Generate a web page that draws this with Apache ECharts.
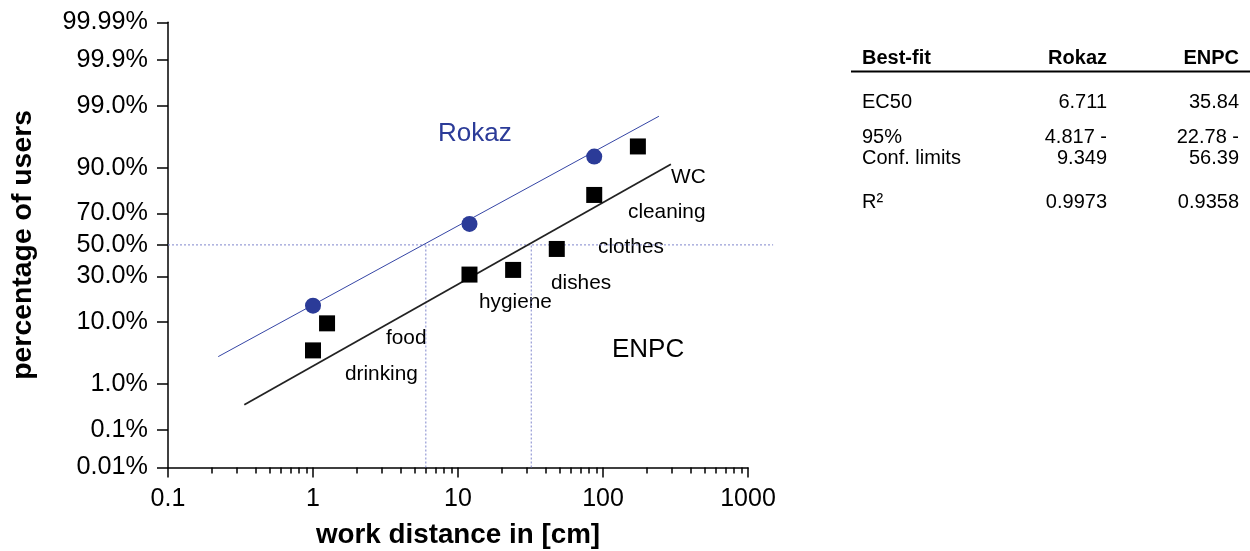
<!DOCTYPE html>
<html><head><meta charset="utf-8">
<script src="https://cdn.jsdelivr.net/npm/echarts@6/dist/echarts.min.js"></script>
<style>html,body{margin:0;padding:0;background:#fff}#c{width:1250px;height:551px}</style>
</head><body><div id="c"></div>
<script>
// ---- data ----
const rokazX = [1, 12, 87];
const rokazPct = [15.5, 63.7, 93.0];
const enpcX = [1, 1.25, 12, 24, 48, 87, 174];
const enpcPct = [3.9, 9.5, 31.0, 33.8, 47.3, 79.8, 95.0];
const rokazFitX = [0.222, 243];
const rokazFitPct = [3.1, 98.42];
const enpcFitX = [0.336, 294];
const enpcFitPct = [0.38, 91.1];
const crossX = [6.0, 32.0];          // where fit lines cross 50 %
const guideEndX = 1490;
const yTickPct = [0.01, 0.1, 1, 10, 30, 50, 70, 90, 99, 99.9, 99.99];
const yTickLabels = ['0.01%', '0.1%', '1.0%', '10.0%', '30.0%', '50.0%', '70.0%', '90.0%', '99.0%', '99.9%', '99.99%'];
const xTickVals = [0.1, 1, 10, 100, 1000];
const xTickLabels = ['0.1', '1', '10', '100', '1000'];
const tableHeader = ['Best-fit', 'Rokaz', 'ENPC'];
const tableRows = [
  ['EC50', '6.711', '35.84'],
  ['95%\nConf. limits', '4.817 -\n9.349', '22.78 -\n56.39'],
  ['R²', '0.9973', '0.9358']
];
const pointLabels = ['WC', 'cleaning', 'clothes', 'dishes', 'hygiene', 'food', 'drinking'];

// ---- scales ----
function probit(p) {
  const a = [-3.969683028665376e+01, 2.209460984245205e+02, -2.759285104469687e+02, 1.383577518672690e+02, -3.066479806614716e+01, 2.506628277459239e+00];
  const b = [-5.447609879822406e+01, 1.615858368580409e+02, -1.556989798598866e+02, 6.680131188771972e+01, -1.328068155288572e+01];
  const c = [-7.784894002430293e-03, -3.223964580411365e-01, -2.400758277161838e+00, -2.549671664982052e+00, 4.374664141464968e+00, 2.938163982698783e+00];
  const d = [7.784695709041462e-03, 3.224671290700398e-01, 2.445134137142996e+00, 3.754408661907416e+00];
  const pl = 0.02425, ph = 1 - pl; let q, r;
  if (p < pl) { q = Math.sqrt(-2 * Math.log(p)); return (((((c[0]*q+c[1])*q+c[2])*q+c[3])*q+c[4])*q+c[5]) / ((((d[0]*q+d[1])*q+d[2])*q+d[3])*q+1); }
  if (p <= ph) { q = p - 0.5; r = q*q; return (((((a[0]*r+a[1])*r+a[2])*r+a[3])*r+a[4])*r+a[5])*q / (((((b[0]*r+b[1])*r+b[2])*r+b[3])*r+b[4])*r+1); }
  q = Math.sqrt(-2 * Math.log(1 - p)); return -(((((c[0]*q+c[1])*q+c[2])*q+c[3])*q+c[4])*q+c[5]) / ((((d[0]*q+d[1])*q+d[2])*q+d[3])*q+1);
}
const Y = pct => probit(pct / 100);
const X = v => Math.log10(v);
const pts = (xs, ps) => xs.map((x, i) => [X(x), Y(ps[i])]);

const yTickPos = yTickPct.map(Y);
const xTickPos = xTickVals.map(X);
const minorPos = [];
for (let e = -1; e < 3; e++) for (let k = 2; k <= 9; k++) minorPos.push(e + Math.log10(k));

const FONT = "'Liberation Sans', Arial, Helvetica, sans-serif";
const BLUE = '#2b3b98';
const GUIDE = { color: '#7f86cc', width: 1, type: [2, 2] };

const chart = echarts.init(document.getElementById('c'));

// ---- graphics (labels + table) ----
const g = [];
const txt = (x, y, s, opt) => g.push({ type: 'text', x: x, y: y, silent: true,
  style: Object.assign({ text: s, fontFamily: FONT, fontSize: 20.5, fill: '#000', textAlign: 'left', textVerticalAlign: 'middle' }, opt || {}) });
txt(438, 134, 'Rokaz', { fontSize: 26, fill: BLUE });
txt(612, 350, 'ENPC', { fontSize: 26 });
const labelPos = [[671, 177], [628, 212], [598, 247], [551, 283], [479, 302], [386, 338.5], [345, 374]];
pointLabels.forEach((s, i) => txt(labelPos[i][0], labelPos[i][1], s, { fontSize: 20.8 }));
// table
const colX = [862, 1107, 1239];
const colAlign = ['left', 'right', 'right'];
tableHeader.forEach((s, i) => txt(colX[i], 58.5, s, { fontSize: 20, fontWeight: 'bold', textAlign: colAlign[i] }));
g.push({ type: 'line', silent: true, shape: { x1: 851, y1: 71.5, x2: 1250, y2: 71.5 }, style: { stroke: '#000', lineWidth: 2 } });
const rowY = [102, 137, 202];
tableRows.forEach((row, r) => row.forEach((cell, ci) => cell.split('\n').forEach((ln, li) =>
  txt(colX[ci], rowY[r] + li * 21.6, ln, { fontSize: 20, textAlign: colAlign[ci] }))));

const option = {
  animation: false,
  backgroundColor: '#fff',
  grid: { left: 168, right: 502, top: 22.3, bottom: 83.5, containLabel: false, outerBoundsMode: 'none' },
  xAxis: [{
    type: 'value', min: -1, max: 3, position: 'bottom',
    name: 'work distance in [cm]', nameLocation: 'middle', nameGap: 54,
    nameTextStyle: { fontFamily: FONT, fontSize: 27.8, fontWeight: 'bold', color: '#000' },
    axisLine: { show: true, onZero: false, lineStyle: { color: '#000', width: 1.5 } },
    axisTick: { show: true, length: 10, customValues: xTickPos, lineStyle: { color: '#000', width: 1.5 } },
    axisLabel: { customValues: xTickPos, margin: 19, fontFamily: FONT, fontSize: 25, color: '#000',
      formatter: v => { const i = xTickPos.findIndex(t => Math.abs(t - v) < 1e-6); return i >= 0 ? xTickLabels[i] : ''; } },
    splitLine: { show: false }
  }, {
    type: 'value', min: -1, max: 3, position: 'bottom',
    axisLine: { show: false, onZero: false },
    axisTick: { show: true, length: 6, customValues: minorPos, lineStyle: { color: '#000', width: 1.5 } },
    axisLabel: { show: false },
    splitLine: { show: false }
  }],
  yAxis: {
    type: 'value', min: Y(0.01), max: Y(99.99),
    name: 'percentage of users', nameLocation: 'middle', nameGap: 131,
    nameTextStyle: { fontFamily: FONT, fontSize: 28.4, fontWeight: 'bold', color: '#000' },
    axisLine: { show: true, onZero: false, lineStyle: { color: '#000', width: 1.5 } },
    axisTick: { show: true, length: 11, customValues: yTickPos, lineStyle: { color: '#000', width: 1.5 } },
    axisLabel: { customValues: yTickPos, margin: 20, fontFamily: FONT, fontSize: 25.2, color: '#000',
      formatter: v => { const i = yTickPos.findIndex(t => Math.abs(t - v) < 1e-6); return i >= 0 ? yTickLabels[i] : ''; } },
    splitLine: { show: false }
  },
  series: [
    { type: 'line', symbol: 'none', silent: true, lineStyle: GUIDE,
      data: [[X(crossX[0]), Y(0.01)], [X(crossX[0]), Y(50)]] },
    { type: 'line', symbol: 'none', silent: true, lineStyle: GUIDE,
      data: [[X(crossX[1]), Y(0.01)], [X(crossX[1]), Y(50)]] },
    { name: 'Rokaz fit', type: 'line', symbol: 'none', silent: true, lineStyle: { color: '#3545a5', width: 1 },
      data: pts(rokazFitX, rokazFitPct) },
    { name: 'ENPC fit', type: 'line', symbol: 'none', silent: true, lineStyle: { color: '#222', width: 1.8 },
      data: pts(enpcFitX, enpcFitPct) },
    { name: 'Rokaz', type: 'scatter', symbol: 'circle', symbolSize: 16, itemStyle: { color: BLUE, opacity: 1 },
      data: pts(rokazX, rokazPct), z: 5 },
    { name: 'ENPC', type: 'scatter', symbol: 'rect', symbolSize: 16, itemStyle: { color: '#000', opacity: 1 },
      data: pts(enpcX, enpcPct), z: 5 }
  ],
  graphic: g
};
chart.setOption(option);

// 50 % guide line, which runs past the end of the x axis: place it through the chart's own scales
const p0 = chart.convertToPixel({ gridIndex: 0 }, [X(0.1), Y(50)]);
const p1 = chart.convertToPixel({ gridIndex: 0 }, [X(guideEndX), Y(50)]);
g.push({ type: 'line', silent: true, z: 1,
  shape: { x1: p0[0], y1: p0[1], x2: p1[0], y2: p1[1] },
  style: { stroke: GUIDE.color, lineWidth: GUIDE.width, lineDash: GUIDE.type } });
chart.setOption({ graphic: g });
</script>
</body></html>
